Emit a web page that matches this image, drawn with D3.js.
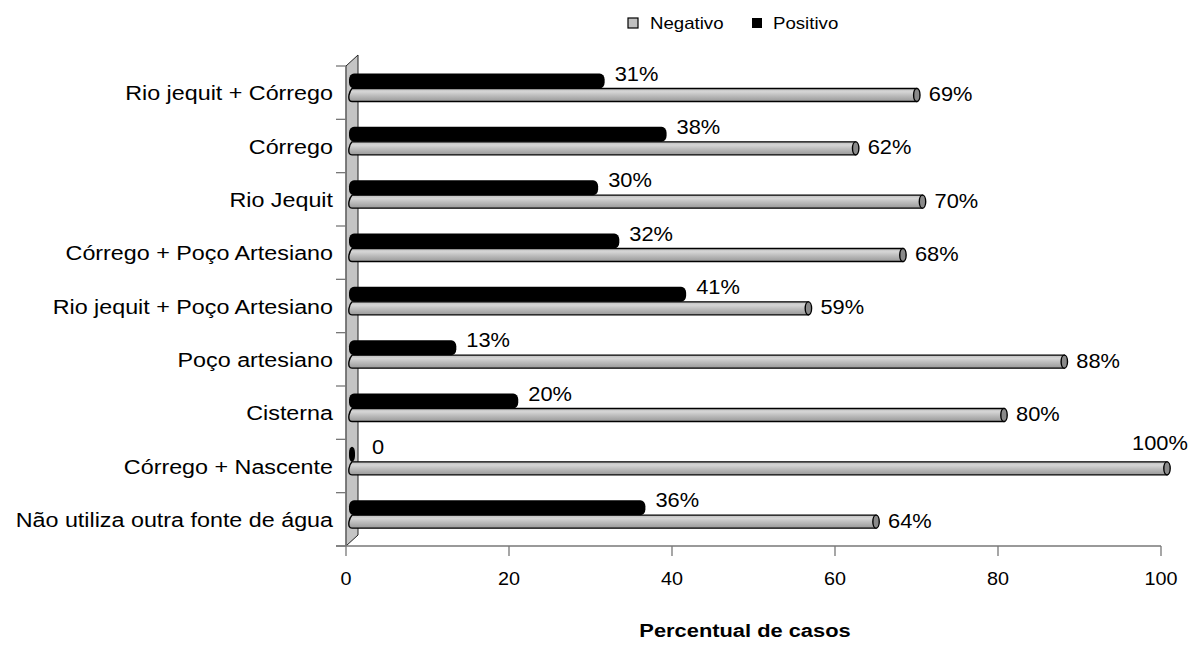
<!DOCTYPE html>
<html><head><meta charset="utf-8">
<script src="https://cdn.jsdelivr.net/npm/d3@7/dist/d3.min.js"></script>
<style>body{margin:0;background:#fff}svg{display:block}</style>
</head><body>
<svg id="c" width="1197" height="646"></svg>
<script>
const categories = ["Rio jequit + Córrego","Córrego","Rio Jequit","Córrego + Poço Artesiano","Rio jequit + Poço Artesiano","Poço artesiano","Cisterna","Córrego + Nascente","Não utiliza outra fonte de água"];
const negativo = [69.3,61.8,70,67.6,56,87.4,80,100,64.3];
const positivo = [31,38.6,30.2,32.8,41,12.8,20.4,0,36];
const negLabels = ["69%","62%","70%","68%","59%","88%","80%","100%","64%"];
const posLabels = ["31%","38%","30%","32%","41%","13%","20%","0","36%"];
const xTicks = [0,20,40,60,80,100];
const seriesNames = ["Negativo","Positivo"];
const axisTitle = "Percentual de casos";

const svg = d3.select("#c");
const FONT = "'Liberation Sans', Arial, sans-serif";
const x = d3.scaleLinear().domain([0,100]).range([346,1161]);
const y = d3.scaleBand().domain(categories).range([66,546]).paddingInner(0).paddingOuter(0);
const DX = 12, DY = -11;

const defs = svg.append("defs");
const gg = defs.append("linearGradient").attr("id","gray").attr("x1",0).attr("y1",0).attr("x2",0).attr("y2",1);
[[0,"#bdbdbd"],[0.25,"#d6d6d6"],[0.5,"#c0c0c0"],[0.8,"#a8a8a8"],[1,"#9a9a9a"]].forEach(s=>gg.append("stop").attr("offset",s[0]).attr("stop-color",s[1]));

function txt(px, py, s, size, anchor, weight, sx){
  svg.append("text").attr("transform",`translate(${px},${py}) scale(${sx||1.12},1)`)
    .attr("text-anchor",anchor||"start").attr("font-family",FONT).attr("font-size",size)
    .attr("font-weight",weight||"normal").attr("fill","#000").text(s);
}

// wall
svg.append("polygon").attr("points",[[x(0),66],[x(0)+DX,66+DY],[x(0)+DX,546+DY],[x(0),546]].map(p=>p.join(",")).join(" "))
  .attr("fill","#c4c4c4").attr("stroke","#222").attr("stroke-width",1);

// axes
const ax = svg.append("g").attr("stroke","#777").attr("stroke-width",1.3);
ax.append("line").attr("x1",x(0)).attr("x2",x(0)).attr("y1",66).attr("y2",546);
ax.append("line").attr("x1",336).attr("x2",x(100)).attr("y1",546).attr("y2",546);
const bounds = categories.map(c=>y(c)).concat([546]);
bounds.forEach(b=>ax.append("line").attr("x1",336).attr("x2",x(0)).attr("y1",b).attr("y2",b));
xTicks.forEach(t=>ax.append("line").attr("x1",x(t)).attr("x2",x(t)).attr("y1",546).attr("y2",556));
xTicks.forEach(t=>txt(x(t),585,String(t),18,"middle",null,1.1));

// category labels
categories.forEach(c=>{
  svg.append("text").attr("transform",`translate(333,${y(c)+y.bandwidth()/2+7.5}) scale(1.11,1)`)
    .attr("text-anchor","end").attr("font-family",FONT).attr("font-size",21).text(c);
});

// bars
categories.forEach((c,i)=>{
  const t = y(c);
  // negative gray cylinder
  const gy0 = t+22.5, gh = 13;
  const gx0 = x(0)+3, gx1 = x(negativo[i])+6;
  svg.append("path").attr("d",`M${gx0+3},${gy0} L${gx1},${gy0} L${gx1},${gy0+gh} L${gx0+3},${gy0+gh} Q${gx0-1},${gy0+gh} ${gx0},${gy0+gh/2} Q${gx0+1},${gy0+2} ${gx0+3},${gy0}Z`)
    .attr("fill","url(#gray)").attr("stroke","#000").attr("stroke-width",1.4);
  svg.append("ellipse").attr("cx",gx1).attr("cy",gy0+gh/2).attr("rx",3.2).attr("ry",gh/2)
    .attr("fill","#8a8a8a").attr("stroke","#000").attr("stroke-width",1.4);
  // positive black cylinder
  const by0 = t+7.5, bh = 15;
  const bx0 = x(0)+3, bx1 = Math.max(x(positivo[i])+6, bx0+6);
  svg.append("rect").attr("x",bx0).attr("y",by0).attr("width",bx1-bx0).attr("height",bh)
    .attr("rx",Math.min(5,(bx1-bx0)/2)).attr("ry",Math.min(6,bh/2)).attr("fill","#000");
  // labels
  if (gx1 + 60 > 1197) txt(1132, gy0-12, negLabels[i], 19.5, "start");
  else txt(gx1+12, gy0+gh/2+6, negLabels[i], 19.5, "start");
  const plx = positivo[i] === 0 ? bx1+17 : bx1+10;
  txt(plx, by0+7, posLabels[i], 19.5, "start");
});

// legend
svg.append("rect").attr("x",628).attr("y",18).attr("width",10).attr("height",10).attr("fill","#c0c0c0").attr("stroke","#000").attr("stroke-width",1.2);
txt(650,29,seriesNames[0],16.5,"start",null,1.13);
svg.append("rect").attr("x",752).attr("y",18).attr("width",10).attr("height",10).attr("fill","#000");
txt(773,29,seriesNames[1],16.5,"start",null,1.13);

// title
txt(745,637,axisTitle,19,"middle","bold",1.15);
</script>
</body></html>
